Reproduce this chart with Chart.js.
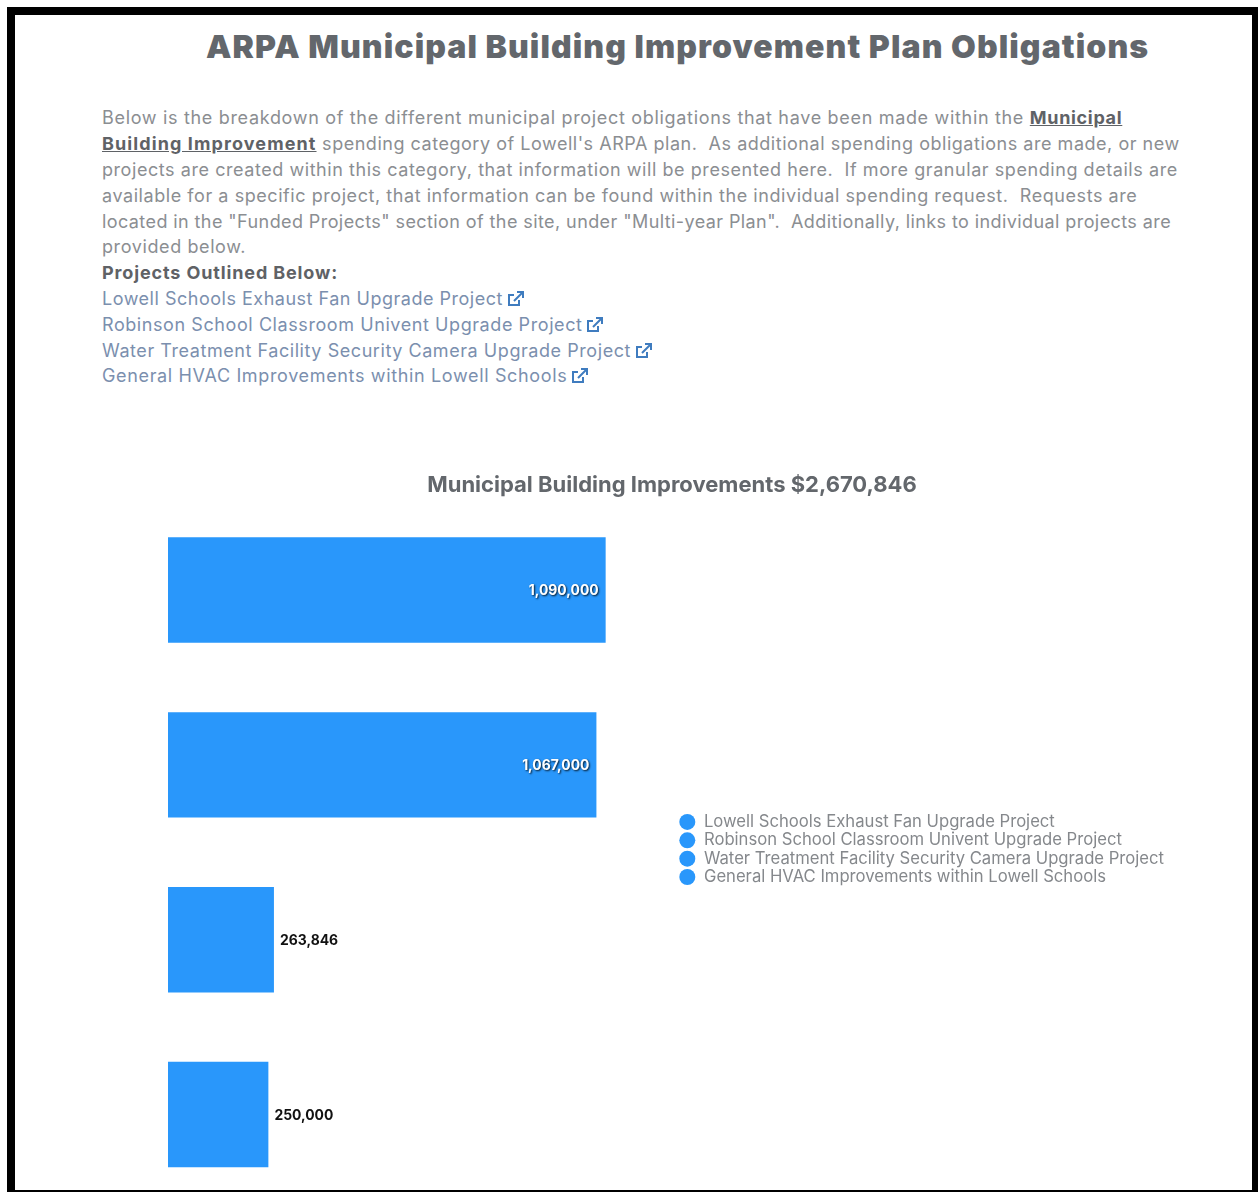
<!DOCTYPE html>
<html><head><meta charset="utf-8">
<script src="https://cdn.jsdelivr.net/npm/chart.js@4"></script>
<style>
html,body{margin:0;padding:0;background:#fff;width:1258px;height:1192px;overflow:hidden;font-family:Inter,sans-serif}
#frame{position:absolute;left:7px;top:7px;width:1251px;height:1185px;box-sizing:border-box;border:solid #000;border-width:8px 6px 2px 8px;z-index:5;pointer-events:none}
h1{position:absolute;left:206px;top:26px;margin:0;font-size:32px;line-height:42px;font-weight:900;letter-spacing:1.1px;color:#63676c;white-space:nowrap}
.l{position:absolute;left:102px;white-space:nowrap;font-size:18px;line-height:26px;color:#8b8e92;font-weight:400}
.l b{color:#5f6266;font-weight:700}.l b.u{text-decoration:underline}
.l b.w{letter-spacing:1.1px}
.l.a{color:#7b8fae}
.l svg{vertical-align:-2px;margin-left:4px}
#wrap{position:absolute;left:100px;top:460px;width:1143px;height:742px}
</style></head><body>
<div id="frame"></div>
<h1>ARPA Municipal Building Improvement Plan Obligations</h1>
<div id="text"></div>
<div id="wrap"><canvas id="c"></canvas></div>
<script>
const categories=["Lowell Schools Exhaust Fan Upgrade Project","Robinson School Classroom Univent Upgrade Project","Water Treatment Facility Security Camera Upgrade Project","General HVAC Improvements within Lowell Schools"];
const values=[1090000,1067000,263846,250000];
const chartTitle="Municipal Building Improvements $2,670,846";
const barColor="#2997fb";
const introLines=[
'Below is the breakdown of the different municipal project obligations that have been made within the <b class="u">Municipal</b>',
'<b class="u w">Building Improvement</b> spending category of Lowell\'s ARPA plan.&nbsp; As additional spending obligations are made, or new',
'projects are created within this category, that information will be presented here.&nbsp; If more granular spending details are',
'available for a specific project, that information can be found within the individual spending request.&nbsp; Requests are',
'located in the "Funded Projects" section of the site, under "Multi-year Plan".&nbsp; Additionally, links to individual projects are',
'provided below.',
'<b>Projects Outlined Below:</b>'];
const lineSpacing=[.68,.525,.56,.56,.41,.6,.87,.51,.58,.56,.65];
const icon='<svg width="17" height="16" viewBox="0 0 17 16" fill="none" stroke="#3f7cbf" stroke-width="2"><path d="M12 9v5H2V4h5"/><path d="M7 10 15 2M10 1h6v6"/></svg>';
const t=document.getElementById('text');let y=105.4;
const step=25.8;
introLines.concat(categories).forEach((s,i)=>{
  const d=document.createElement('div');
  const isLink=i>=introLines.length;
  d.className='l'+(isLink?' a':'');
  d.style.top=(y+i*step)+'px';
  d.style.letterSpacing=lineSpacing[i]+'px';
  d.innerHTML=s+(isLink?icon:'');
  t.appendChild(d);
});
const labelPlugin={id:'valueLabels',afterLayout(chart){
  const lg=chart.legend;
  lg.left-=2;lg.right-=2;lg.top+=18.5;lg.bottom+=18.5;
},afterDatasetsDraw(chart){
  const ctx=chart.ctx,meta=chart.getDatasetMeta(0);
  ctx.save();ctx.font='700 13.9px Inter';ctx.textBaseline='middle';
  meta.data.forEach((bar,i)=>{
    const txt=values[i].toLocaleString('en-US');
    const w=ctx.measureText(txt).width;
    if(bar.width>w*2){
      ctx.textAlign='right';ctx.fillStyle='#fff';
      ctx.shadowColor='rgba(0,0,0,.85)';ctx.shadowBlur=2;ctx.shadowOffsetX=1;ctx.shadowOffsetY=1;
      ctx.fillText(txt,bar.x-7,bar.y+1);
    }else{
      ctx.textAlign='left';ctx.fillStyle='#111';ctx.shadowColor='transparent';
      ctx.shadowBlur=0;ctx.shadowOffsetX=0;ctx.shadowOffsetY=0;
      ctx.fillText(txt,bar.x+6,bar.y+1);
    }
  });
  ctx.restore();
}};
new Chart(document.getElementById('c'),{
  type:'bar',
  data:{labels:categories,datasets:[{data:values,backgroundColor:barColor,barPercentage:1,categoryPercentage:0.603}]},
  options:{
    indexAxis:'y',responsive:true,maintainAspectRatio:false,animation:false,
    layout:{padding:{left:68,right:67,top:0,bottom:0}},
    scales:{x:{display:false,min:0,max:1273400},y:{display:false}},
    plugins:{
      tooltip:{enabled:false},
      title:{display:true,text:chartTitle,color:'#63676c',font:{family:'Inter',size:22,weight:'700'},padding:{top:12,bottom:4.2}},
      legend:{position:'right',labels:{
        font:{family:'Inter',size:16.65},color:'#85888c',usePointStyle:true,pointStyle:'circle',boxWidth:16.65,boxHeight:11.3,padding:1.7,
        generateLabels:()=>categories.map((c,i)=>({text:c,fillStyle:barColor,strokeStyle:barColor,lineWidth:0,pointStyle:'circle',index:i,hidden:false,fontColor:'#85888c'}))
      }}
    }
  },
  plugins:[labelPlugin]
});
</script></body></html>
